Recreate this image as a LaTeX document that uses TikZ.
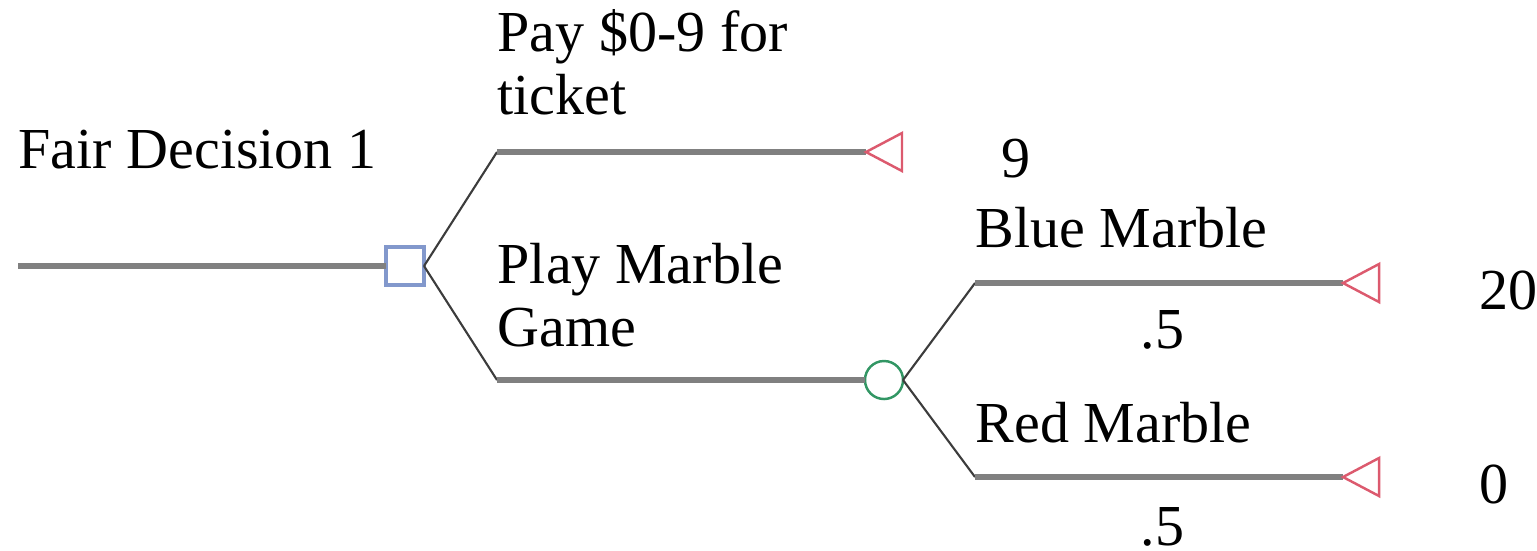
\documentclass[tikz,border=0pt]{standalone}
\usepackage{fontspec}
\setmainfont{Liberation Serif}
\begin{document}
\begin{tikzpicture}[x=0.01cm,y=-0.01cm,
  branch/.style={line width=1.45pt,draw={rgb,255:red,128;green,128;blue,128}},
  link/.style={line width=0.6pt,draw={rgb,255:red,60;green,60;blue,60}},
  decision/.style={draw={rgb,255:red,130;green,152;blue,204},line width=1.2pt,fill=white,
    minimum size=0.38cm,inner sep=0pt,outer sep=0pt},
  chance/.style={draw={rgb,255:red,50;green,150;blue,100},line width=0.7pt,fill=white,
    circle,minimum size=0.38cm,inner sep=0pt,outer sep=0pt},
  terminal/.style={draw={rgb,255:red,220;green,90;blue,110},line width=0.7pt},
  lbl/.style={anchor=base west,inner sep=0pt,font=\fontsize{16.5}{19}\selectfont}]
\useasboundingbox (0,0) rectangle (1537,550);

% root branch and decision node
\coordinate (root) at (18,266);
\node[decision] (dec) at (405,266) {};
\draw[branch] (root) -- (dec.west);

% option 1: buy ticket
\coordinate (a1) at (497,152);
\coordinate (t1) at (866,152);
\draw[link] (dec.east) -- (a1);
\draw[branch] (a1) -- (t1);
\draw[terminal] (t1) -- ++(36,-19) -- ++(0,38) -- cycle;

% option 2: play the game
\coordinate (a2) at (497,380);
\node[chance] (ch) at (884,380) {};
\draw[link] (dec.east) -- (a2);
\draw[branch] (a2) -- (ch.west);

% chance outcomes
\coordinate (c1) at (975,283);
\coordinate (t2) at (1343,283);
\draw[link] (ch.east) -- (c1);
\draw[branch] (c1) -- (t2);
\draw[terminal] (t2) -- ++(36,-19) -- ++(0,38) -- cycle;

\coordinate (c2) at (975,477);
\coordinate (t3) at (1343,477);
\draw[link] (ch.east) -- (c2);
\draw[branch] (c2) -- (t3);
\draw[terminal] (t3) -- ++(36,-19) -- ++(0,38) -- cycle;

% labels
\node[lbl] (title) at (18,168) {Fair Decision 1};
\node[lbl] (o1a) at (497,51) {Pay \$0-9 for};
\node[lbl] (o1b) at (497,114) {ticket};
\node[lbl] (v1) at (1001,177) {9};
\node[lbl] (o2a) at (497,283) {Play Marble};
\node[lbl] (o2b) at (497,346) {Game};
\node[lbl] (e1) at (975,247) {Blue Marble};
\node[lbl] (p1) at (1140,348) {.5};
\node[lbl] (v2) at (1479,309) {20};
\node[lbl] (e2) at (975,442) {Red Marble};
\node[lbl] (p2) at (1140,545) {.5};
\node[lbl] (v3) at (1479,503) {0};
\end{tikzpicture}
\end{document}
